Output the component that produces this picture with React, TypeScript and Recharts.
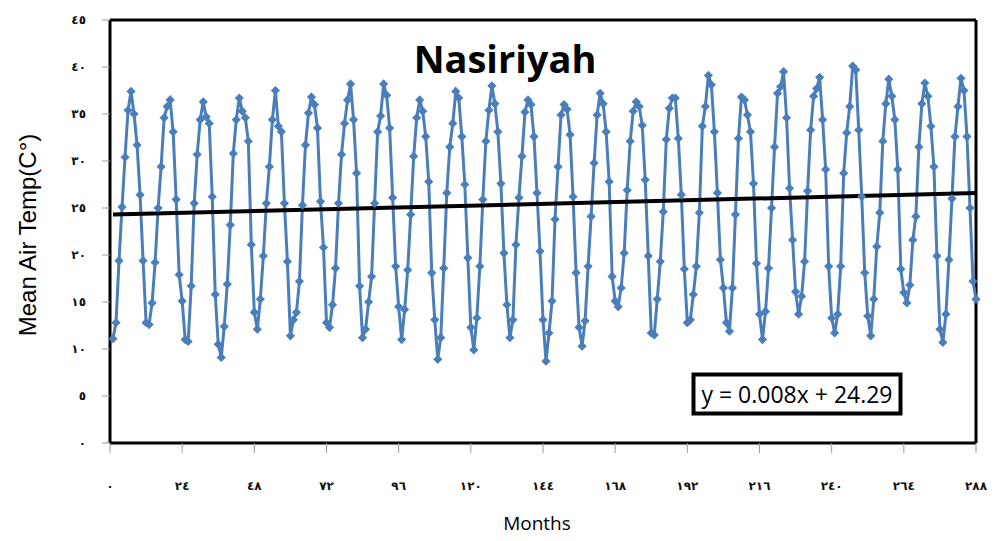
import { LineChart, Line, XAxis, YAxis, ReferenceLine } from 'recharts';

// monthly mean air temperature, one row per year (Jan..Dec)
const year01 = [11.1, 12.8, 19.4, 25.1, 30.4, 35.4, 37.4, 35.0, 31.7, 26.4, 19.4, 12.8];
const year02 = [12.6, 14.9, 19.2, 25.0, 29.4, 34.6, 35.8, 36.5, 33.1, 25.9, 17.9, 15.1];
const year03 = [11.0, 10.8, 16.7, 25.5, 30.7, 34.4, 36.3, 34.7, 34.0, 26.2, 15.8, 10.5];
const year04 = [9.1, 12.4, 16.9, 23.2, 30.8, 34.4, 36.7, 35.3, 34.6, 32.1, 21.1, 13.9];
const year05 = [12.1, 15.3, 19.9, 25.5, 29.4, 34.4, 37.5, 33.7, 33.1, 25.5, 19.3, 11.4];
const year06 = [13.1, 13.9, 17.2, 25.3, 31.7, 35.1, 36.8, 36.0, 33.5, 25.7, 20.8, 12.8];
const year07 = [12.3, 14.7, 18.6, 25.5, 30.7, 34.0, 36.5, 38.2, 34.4, 28.7, 16.7, 11.2];
const year08 = [12.1, 15.0, 17.7, 25.5, 33.1, 34.8, 38.2, 37.0, 33.5, 26.1, 18.8, 14.5];
const year09 = [11.0, 14.2, 18.4, 24.3, 30.5, 34.6, 36.5, 35.3, 32.6, 27.8, 18.1, 13.1];
const year10 = [8.9, 11.2, 18.6, 26.6, 31.5, 34.0, 37.4, 36.7, 32.6, 27.5, 19.7, 12.3];
const year11 = [9.9, 13.3, 18.8, 25.9, 32.1, 35.4, 38.0, 36.1, 33.1, 27.6, 20.2, 14.7];
const year12 = [11.2, 13.1, 21.1, 26.1, 30.5, 35.2, 36.5, 36.0, 32.6, 26.6, 20.4, 13.1];
const year13 = [8.7, 11.7, 15.1, 23.8, 29.4, 34.9, 36.0, 35.5, 32.8, 26.2, 18.1, 12.3];
const year14 = [10.3, 13.0, 18.8, 24.1, 29.8, 34.9, 37.2, 36.1, 33.1, 27.8, 17.7, 15.1];
const year15 = [14.5, 16.5, 20.2, 26.9, 32.1, 35.3, 36.3, 35.8, 33.8, 28.0, 19.9, 11.7];
const year16 = [11.5, 15.3, 19.3, 24.6, 32.3, 35.6, 36.7, 36.7, 32.4, 26.4, 18.5, 12.8];
const year17 = [13.1, 15.8, 18.8, 24.5, 33.7, 35.8, 39.1, 38.1, 33.1, 26.6, 19.5, 16.5];
const year18 = [12.8, 11.9, 16.5, 24.3, 32.4, 36.8, 36.5, 34.9, 33.1, 27.6, 19.1, 13.7];
const year19 = [11.0, 14.0, 18.6, 25.0, 31.5, 37.2, 37.9, 39.5, 34.6, 27.1, 21.6, 16.1];
const year20 = [13.7, 15.6, 19.3, 26.8, 33.3, 36.9, 37.7, 38.9, 34.4, 29.1, 18.8, 13.3];
const year21 = [11.7, 13.7, 18.8, 28.7, 33.0, 35.8, 40.1, 39.7, 33.3, 26.2, 18.1, 13.5];
const year22 = [11.4, 15.3, 20.9, 24.5, 32.1, 36.1, 38.7, 36.9, 34.4, 29.1, 18.5, 16.0];
const year23 = [14.9, 16.8, 21.6, 24.1, 31.5, 36.1, 38.3, 36.9, 33.7, 29.4, 19.9, 12.1];
const year24 = [10.7, 13.7, 19.5, 26.0, 32.6, 35.8, 38.8, 37.5, 32.6, 25.0, 17.2, 15.3];

const years = [
  year01, year02, year03, year04, year05, year06, year07, year08,
  year09, year10, year11, year12, year13, year14, year15, year16,
  year17, year18, year19, year20, year21, year22, year23, year24,
];

const monthTicks = [0, 24, 48, 72, 96, 120, 144, 168, 192, 216, 240, 264, 288];
const monthTickLabels = ['٠', '٢٤', '٤٨', '٧٢', '٩٦', '١٢٠', '١٤٤', '١٦٨', '١٩٢', '٢١٦', '٢٤٠', '٢٦٤', '٢٨٨'];
const tempTicks = [0, 5, 10, 15, 20, 25, 30, 35, 40, 45];
const tempTickLabels = ['٠', '٥', '١٠', '١٥', '٢٠', '٢٥', '٣٠', '٣٥', '٤٠', '٤٥'];

// linear trend y = 0.008x + 24.29, drawn across the data range
const trendStart = { x: 1, y: 24.3 };
const trendEnd = { x: 288, y: 26.59 };

const data = years.flat().map((temp, i) => ({ month: i + 1, temp }));

const BLUE = '#4a7ebb';

const Diamond = (props: any) => {
  const { cx, cy, index } = props;
  if (cx == null || cy == null) return null;
  const r = 4.6;
  return (
    <path
      key={`dot-${index}`}
      d={`M${cx},${cy - r}L${cx + r},${cy}L${cx},${cy + r}L${cx - r},${cy}Z`}
      fill={BLUE}
    />
  );
};

const tickFont = { fill: '#111', fontSize: 12, fontWeight: 'bold', fontFamily: 'DejaVu Sans' };

const App = () => {
  return (
    <div style={{ position: 'absolute', left: 0, top: 0, width: 1000, height: 541, background: '#fff' }}>
      <LineChart width={1000} height={541} data={data} margin={{ top: 20, right: 24, bottom: 0, left: 0 }}>
        <XAxis
          type="number"
          dataKey="month"
          domain={[0, 288]}
          ticks={monthTicks}
          tickFormatter={(v) => monthTickLabels[monthTicks.indexOf(v)]}
          height={98}
          tickSize={10}
          tickMargin={28}
          tick={tickFont}
          axisLine={{ stroke: '#000', strokeWidth: 3 }}
          tickLine={{ stroke: '#999' }}
        />
        <YAxis
          type="number"
          domain={[0, 45]}
          ticks={tempTicks}
          tickFormatter={(v) => tempTickLabels[tempTicks.indexOf(v)]}
          width={110}
          tickSize={8}
          tickMargin={16}
          tick={tickFont}
          axisLine={{ stroke: '#000', strokeWidth: 3 }}
          tickLine={{ stroke: '#999' }}
        />
        <ReferenceLine y={45} stroke="#000" strokeWidth={3} />
        <ReferenceLine x={288} stroke="#000" strokeWidth={3} />
        <Line
          type="linear"
          dataKey="temp"
          stroke={BLUE}
          strokeWidth={3}
          dot={Diamond}
          activeDot={false}
          isAnimationActive={false}
        />
        <ReferenceLine segment={[trendStart, trendEnd]} stroke="#000" strokeWidth={4} />
      </LineChart>
      <svg width={1000} height={541} style={{ position: 'absolute', left: 0, top: 0, pointerEvents: 'none' }}>
        <text x={505} y={73} textAnchor="middle" fontFamily="Open Sans" fontWeight="bold" fontSize={38} fill="#000">
          Nasiriyah
        </text>
        <text
          x={36}
          y={235}
          transform="rotate(-90 36 235)"
          textAnchor="middle"
          fontFamily="Liberation Sans"
          fontSize={24}
          fill="#000"
        >
          Mean Air Temp(C°)
        </text>
        <text x={537} y={530} textAnchor="middle" fontFamily="Open Sans" fontSize={19} fill="#000">
          Months
        </text>
        <rect x={693.5} y={374.5} width={207} height={39} fill="#fff" stroke="#000" strokeWidth={4} />
        <text x={797} y={403} textAnchor="middle" fontFamily="Open Sans" fontSize={23} fill="#000">
          y = 0.008x + 24.29
        </text>
      </svg>
    </div>
  );
};

export default App;
